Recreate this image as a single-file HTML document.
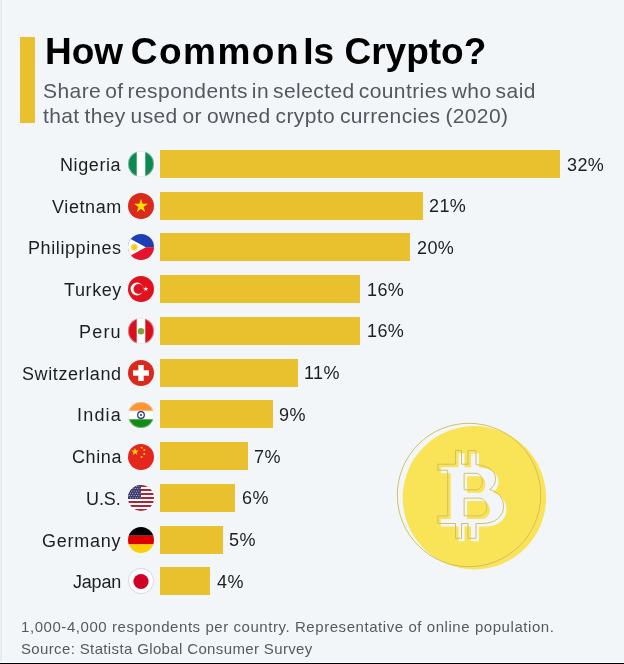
<!DOCTYPE html>
<html><head><meta charset="utf-8">
<style>
*{margin:0;padding:0;box-sizing:border-box}
html,body{width:624px;height:664px;overflow:hidden;background:#f2f6f9}
body{position:relative;font-family:"Liberation Sans",sans-serif}
.abs{position:absolute;white-space:nowrap;will-change:transform}
#accent{left:20px;top:37px;width:15px;height:86px;background:#e9c12f}
#title{left:45px;top:31.5px;font-size:37px;font-weight:bold;color:#000;line-height:40px}
#sub{left:43px;top:79px;font-size:21px;color:#54585e;line-height:24.9px;letter-spacing:0.16px}
.lab{margin-top:1px;right:502.4px;font-size:18px;color:#1e1e1e;line-height:28px;text-align:right;letter-spacing:0.6px}
.bar{left:160px;height:28px;background:#e9c12f}
.val{font-size:18px;color:#1e1e1e;line-height:28px;letter-spacing:0.4px;margin-left:0.7px;margin-top:0.5px}
#foot{left:21px;top:616px;font-size:15px;color:#555a60;line-height:21.6px}
#foot span{display:block}
#bottom{left:0;top:662px;width:624px;height:2px;background:#000;border-top:1px solid #fff}
svg.flag{position:absolute;left:127.5px;width:26px;height:26px}
</style></head><body>
<div class="abs" id="accent"></div>
<div class="abs" id="title">How <span style="letter-spacing:1.5px;margin-left:-2.7px;margin-right:-7px">Common</span> Is Crypto?</div>
<div class="abs" id="sub"><span style="display:block;letter-spacing:0.42px;word-spacing:-2.2px">Share of respondents in selected countries who said</span><span style="display:block;letter-spacing:0.36px;word-spacing:-1.2px">that they used or owned crypto currencies (2020)</span></div>

<div class="abs lab" style="top:150px">Nigeria</div>
<div class="abs lab" style="top:191.7px">Vietnam</div>
<div class="abs lab" style="top:233.4px">Philippines</div>
<div class="abs lab" style="top:275.1px">Turkey</div>
<div class="abs lab" style="top:316.9px;letter-spacing:1.20px;margin-right:-0.60px">Peru</div>
<div class="abs lab" style="top:358.6px">Switzerland</div>
<div class="abs lab" style="top:400.3px;letter-spacing:1.20px;margin-right:-0.60px">India</div>
<div class="abs lab" style="top:442px">China</div>
<div class="abs lab" style="top:483.8px;letter-spacing:-0.10px;margin-right:0.70px">U.S.</div>
<div class="abs lab" style="top:525.5px;letter-spacing:0.75px;margin-right:-0.15px">Germany</div>
<div class="abs lab" style="top:567.2px;letter-spacing:-0.20px;margin-right:0.80px">Japan</div>

<div class="abs bar" style="top:150px;width:400px"></div>
<div class="abs bar" style="top:191.7px;width:262.5px"></div>
<div class="abs bar" style="top:233.4px;width:250px"></div>
<div class="abs bar" style="top:275.1px;width:200px"></div>
<div class="abs bar" style="top:316.9px;width:200px"></div>
<div class="abs bar" style="top:358.6px;width:137.5px"></div>
<div class="abs bar" style="top:400.3px;width:112.5px"></div>
<div class="abs bar" style="top:442px;width:87.5px"></div>
<div class="abs bar" style="top:483.8px;width:75px"></div>
<div class="abs bar" style="top:525.5px;width:62.5px"></div>
<div class="abs bar" style="top:567.2px;width:50px"></div>

<div class="abs val" style="top:150px;left:566px">32%</div>
<div class="abs val" style="top:191.7px;left:428.5px">21%</div>
<div class="abs val" style="top:233.4px;left:416px">20%</div>
<div class="abs val" style="top:275.1px;left:366px">16%</div>
<div class="abs val" style="top:316.9px;left:366px">16%</div>
<div class="abs val" style="top:358.6px;left:303.5px">11%</div>
<div class="abs val" style="top:400.3px;left:278.5px">9%</div>
<div class="abs val" style="top:442px;left:253.5px">7%</div>
<div class="abs val" style="top:483.8px;left:241px">6%</div>
<div class="abs val" style="top:525.5px;left:228.5px">5%</div>
<div class="abs val" style="top:567.2px;left:216px">4%</div>

<!-- flags -->
<svg class="flag" style="top:151px" viewBox="0 0 26 26"><defs><clipPath id="c"><circle cx="13" cy="13" r="13"/></clipPath></defs>
<g clip-path="url(#c)"><rect width="26" height="26" fill="#fff"/><rect width="8.7" height="26" fill="#0c8a52"/><rect x="17.3" width="8.7" height="26" fill="#0c8a52"/></g><circle cx="13" cy="13" r="12.7" fill="none" stroke="#d8d8d8" stroke-width=".6"/></svg>

<svg class="flag" style="top:192.7px" viewBox="0 0 26 26"><circle cx="13" cy="13" r="13" fill="#d92a1c"/>
<polygon fill="#ffe100" points="13,5.8 14.6,10.8 19.9,10.8 15.6,13.9 17.2,18.9 13,15.8 8.8,18.9 10.4,13.9 6.1,10.8 11.4,10.8"/></svg>

<svg class="flag" style="top:234.4px" viewBox="0 0 26 26"><g clip-path="url(#c)"><rect width="26" height="13.2" fill="#1f3db4"/><rect y="13.2" width="26" height="12.8" fill="#e3142c"/><polygon points="-2,2.3 17.8,13.2 -2,24.1" fill="#fff"/><circle cx="6.3" cy="13.2" r="3.4" fill="#f8d84a"/><circle cx="6.3" cy="13.2" r="2.2" fill="#f5c816"/></g></svg>

<svg class="flag" style="top:276.1px" viewBox="0 0 26 26"><circle cx="13" cy="13" r="13" fill="#e1111e"/><circle cx="9" cy="13" r="6.4" fill="#fff"/><circle cx="10.6" cy="13" r="5.1" fill="#e1111e"/><polygon fill="#fff" points="17.8,10.6 18.4,12.3 20.2,12.3 18.8,13.4 19.3,15.1 17.8,14.1 16.3,15.1 16.8,13.4 15.4,12.3 17.2,12.3"/></svg>

<svg class="flag" style="top:317.9px" viewBox="0 0 26 26"><g clip-path="url(#c)"><rect width="26" height="26" fill="#fff"/><rect width="8.7" height="26" fill="#d9101c"/><rect x="17.3" width="8.7" height="26" fill="#d9101c"/><circle cx="13" cy="13.3" r="3.3" fill="#7aa63a"/></g><circle cx="13" cy="13" r="12.7" fill="none" stroke="#d8d8d8" stroke-width=".6"/></svg>

<svg class="flag" style="top:359.6px" viewBox="0 0 26 26"><circle cx="13" cy="13" r="13" fill="#da291c"/><rect x="10.3" y="5" width="5.4" height="16" fill="#fff"/><rect x="5" y="10.3" width="16" height="5.4" fill="#fff"/></svg>

<svg class="flag" style="top:401.9px" viewBox="0 0 26 26"><g clip-path="url(#c)"><rect width="26" height="26" fill="#fff"/><rect width="26" height="8.7" fill="#ff9430"/><rect y="17.3" width="26" height="8.7" fill="#168a17"/><circle cx="13" cy="13" r="3.3" fill="none" stroke="#1c2c8c" stroke-width="1.2"/><circle cx="13" cy="13" r="1" fill="#1c2c8c"/></g><circle cx="13" cy="13" r="12.7" fill="none" stroke="#dcdcdc" stroke-width=".5"/></svg>

<svg class="flag" style="top:443.6px" viewBox="0 0 26 26"><circle cx="13" cy="13" r="13" fill="#e4261c"/>
<polygon fill="#ffdd00" points="7,3.9 7.9,6.6 10.8,6.6 8.5,8.3 9.3,11 7,9.3 4.7,11 5.5,8.3 3.2,6.6 6.1,6.6"/>
<circle cx="13.6" cy="3.8" r="1" fill="#ffcf00"/><circle cx="16.3" cy="6" r="1" fill="#ffcf00"/><circle cx="16.3" cy="9.9" r="1" fill="#ffcf00"/><circle cx="13.6" cy="12.9" r="1" fill="#ffcf00"/></svg>

<svg class="flag" style="top:485.3px" viewBox="0 0 26 26"><g clip-path="url(#c)"><rect width="26" height="26" fill="#fff"/>
<g fill="#b22234"><rect y="0" width="26" height="2"/><rect y="4" width="26" height="2"/><rect y="8" width="26" height="2"/><rect y="12" width="26" height="2"/><rect y="16" width="26" height="2"/><rect y="20" width="26" height="2"/><rect y="24" width="26" height="2"/></g>
<rect width="13" height="14" fill="#3c3b6e"/><g fill="#fff" opacity=".8"><circle cx="1.3" cy="1.3" r=".5"/><circle cx="3.7" cy="1.3" r=".5"/><circle cx="6.1" cy="1.3" r=".5"/><circle cx="8.5" cy="1.3" r=".5"/><circle cx="10.9" cy="1.3" r=".5"/><circle cx="2.5" cy="3.6" r=".5"/><circle cx="4.9" cy="3.6" r=".5"/><circle cx="7.3" cy="3.6" r=".5"/><circle cx="9.7" cy="3.6" r=".5"/><circle cx="12.1" cy="3.6" r=".5"/><circle cx="1.3" cy="5.9" r=".5"/><circle cx="3.7" cy="5.9" r=".5"/><circle cx="6.1" cy="5.9" r=".5"/><circle cx="8.5" cy="5.9" r=".5"/><circle cx="10.9" cy="5.9" r=".5"/><circle cx="2.5" cy="8.2" r=".5"/><circle cx="4.9" cy="8.2" r=".5"/><circle cx="7.3" cy="8.2" r=".5"/><circle cx="9.7" cy="8.2" r=".5"/><circle cx="12.1" cy="8.2" r=".5"/><circle cx="1.3" cy="10.5" r=".5"/><circle cx="3.7" cy="10.5" r=".5"/><circle cx="6.1" cy="10.5" r=".5"/><circle cx="8.5" cy="10.5" r=".5"/><circle cx="10.9" cy="10.5" r=".5"/><circle cx="2.5" cy="12.8" r=".5"/><circle cx="4.9" cy="12.8" r=".5"/><circle cx="7.3" cy="12.8" r=".5"/><circle cx="9.7" cy="12.8" r=".5"/><circle cx="12.1" cy="12.8" r=".5"/></g></g></svg>

<svg class="flag" style="top:527.1px" viewBox="0 0 26 26"><g clip-path="url(#c)"><rect width="26" height="8.7" fill="#000"/><rect y="8.7" width="26" height="8.7" fill="#dd0000"/><rect y="17.3" width="26" height="8.7" fill="#ffce00"/></g></svg>

<svg class="flag" style="top:568.2px" viewBox="0 0 26 26"><circle cx="13" cy="13" r="12.6" fill="#fff" stroke="#cfd2d4" stroke-width=".8"/><circle cx="13" cy="13.5" r="7.6" fill="#d00027"/></svg>

<!-- bitcoin -->
<svg class="abs" style="left:380px;top:410px" width="180" height="180" viewBox="380 410 180 180">
<circle cx="474.4" cy="497.7" r="71.7" fill="#f9e357"/>
<circle cx="469" cy="495" r="71.7" fill="none" stroke="#d3c05f" stroke-width="1"/>
<path d="M437.8 464.2H455.5V450.4H461.5V464.2H468V450.4H476V464.6C487.5 465.5 495.5 470 495.5 478.5C495.5 484 493 487.5 489.5 489.5C498 491.5 503.5 497.5 503.5 506.5C503.5 516.5 495 523.5 482 523.5H476V538.3H468V523.5H461.5V538.3H455.5V523.5H437.8V516H447.7V470.2H437.8Z M464.1 473.3H476C479.8 473.3 482.3 476.8 482.3 481.5C482.3 486.3 479.8 489.8 476 489.8H464.1Z M464.1 498.1H479C483.5 498.1 486.9 502 486.9 507C486.9 512 483.5 515.9 479 515.9H464.1Z" transform="translate(3 3)" fill="#f2f6fb" fill-rule="evenodd"/>
<path d="M437.8 464.2H455.5V450.4H461.5V464.2H468V450.4H476V464.6C487.5 465.5 495.5 470 495.5 478.5C495.5 484 493 487.5 489.5 489.5C498 491.5 503.5 497.5 503.5 506.5C503.5 516.5 495 523.5 482 523.5H476V538.3H468V523.5H461.5V538.3H455.5V523.5H437.8V516H447.7V470.2H437.8Z M464.1 473.3H476C479.8 473.3 482.3 476.8 482.3 481.5C482.3 486.3 479.8 489.8 476 489.8H464.1Z M464.1 498.1H479C483.5 498.1 486.9 502 486.9 507C486.9 512 483.5 515.9 479 515.9H464.1Z" fill="none" stroke="#d3c05f" stroke-width="1"/>
</svg>

<div class="abs" id="foot"><span style="letter-spacing:0.56px">1,000-4,000 respondents per country. Representative of online population.</span><span style="letter-spacing:0.36px">Source: Statista Global Consumer Survey</span></div>
<div class="abs" id="bottom"></div>
<div class="abs" style="left:0;top:0;width:1px;height:661px;background:#ebeef1"></div><div class="abs" style="left:1px;top:0;width:1px;height:661px;background:#e2e6ea"></div><div class="abs" style="left:2px;top:0;width:2px;height:661px;background:#f6f9fc"></div>
</body></html>
